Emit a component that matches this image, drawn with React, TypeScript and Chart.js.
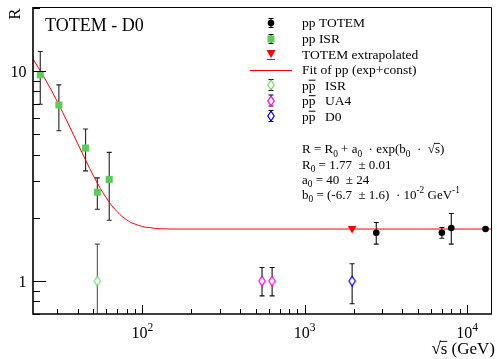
import React, { useEffect, useRef } from 'react';
import { Chart, registerables } from 'chart.js';

Chart.register(...registerables);

// ---- data ----
const fitX = [21, 25, 30, 35, 40, 45, 50, 55, 60, 65, 70, 75, 80, 85, 90, 95, 100, 105, 110, 120, 130, 140, 150, 14100];
const fitR = [11.57, 9.26, 7.13, 5.6, 4.51, 3.73, 3.17, 2.77, 2.49, 2.28, 2.14, 2.03, 1.96, 1.9, 1.87, 1.84, 1.82, 1.805, 1.8, 1.78, 1.775, 1.773, 1.77, 1.77];

const ppTotemX = [2760, 7000, 8000, 13000];
const ppTotemR = [1.7, 1.7, 1.79, 1.77];
const ppTotemLo = [1.5, 1.6, 1.5, 1.75];
const ppTotemHi = [1.9, 1.8, 2.1, 1.79];

const ppIsrX = [23.5, 30.6, 44.7, 52.8, 62.5];
const ppIsrR = [9.6, 6.9, 4.3, 2.65, 3.05];
const ppIsrLo = [6.95, 5.2, 3.35, 2.2, 1.95];
const ppIsrHi = [12.4, 8.6, 5.3, 3.1, 4.1];

const extrapX = [1960];
const extrapR = [1.78];

const pbarIsrX = [52.8];
const pbarIsrR = [1.0];
const pbarIsrLo = [0.5];
const pbarIsrHi = [1.5];

const ua4X = [546, 630];
const ua4R = [1.0, 1.0];
const ua4Lo = [0.85, 0.85];
const ua4Hi = [1.16, 1.16];

const d0X = [1960];
const d0R = [1.0];
const d0Lo = [0.78];
const d0Hi = [1.21];

const xMin = 21.2;
const xMax = 14050;
const yMin = 0.697;
const yMax = 20.2;
const xMajorTicks = [100, 1000, 10000];
const xMajorExp = ['2', '3', '4'];
const yMajorTicks = [1, 10];
const yMajorLabels = ['1', '10'];

const legendLabels = ['pp TOTEM', 'pp ISR', 'TOTEM extrapolated', 'Fit of pp (exp+const)', 'ISR', 'UA4', 'D0'];

const SERIF = '"Liberation Serif", "DejaVu Serif", serif';
const GREEN = '#5ccb5c';
const OPEN_GREEN = '#6edc6e';
const MAGENTA = '#ff00ff';
const BLUE = '#0000ff';
const RED = '#ff0000';

function pts(xs: number[], ys: number[]) {
  return xs.map((x, i) => ({ x, y: ys[i] }));
}

function mkDiamond(color: string): HTMLCanvasElement {
  const c = document.createElement('canvas');
  c.width = 10;
  c.height = 14;
  const g = c.getContext('2d')!;
  g.beginPath();
  g.moveTo(5, 2.2);
  g.lineTo(8.2, 7);
  g.lineTo(5, 11.8);
  g.lineTo(1.8, 7);
  g.closePath();
  g.fillStyle = '#ffffff';
  g.fill();
  g.strokeStyle = color;
  g.lineWidth = 1.2;
  g.stroke();
  return c;
}

type Seg = { t: string; k?: 'sub' | 'sup' | 'ovl' };

function drawRich(ctx: CanvasRenderingContext2D, x: number, y: number, segs: Seg[], size: number, measureOnly = false) {
  let cx = x;
  for (const s of segs) {
    const small = s.k === 'sub' || s.k === 'sup';
    const fs = small ? size * 0.72 : size;
    ctx.font = `${fs}px ${SERIF}`;
    const dy = s.k === 'sub' ? size * 0.28 : s.k === 'sup' ? -size * 0.42 : 0;
    const w = ctx.measureText(s.t).width;
    if (!measureOnly) {
      ctx.fillText(s.t, cx, y + dy);
      if (s.k === 'ovl') {
        ctx.save();
        ctx.lineWidth = 0.9;
        ctx.beginPath();
        ctx.moveTo(cx - 1, y - size * 0.74);
        ctx.lineTo(cx + w, y - size * 0.74);
        ctx.stroke();
        ctx.restore();
      }
    }
    cx += w;
  }
  return cx - x;
}

export default function App() {
  const ref = useRef<HTMLCanvasElement>(null);

  useEffect(() => {
    const canvas = ref.current!;
    const diaGreen = mkDiamond(OPEN_GREEN);
    const diaMag = mkDiamond(MAGENTA);
    const diaBlue = mkDiamond(BLUE);

    const errSets = [
      { xs: ppTotemX, lo: ppTotemLo, hi: ppTotemHi, color: '#111' },
      { xs: ppIsrX, lo: ppIsrLo, hi: ppIsrHi, color: '#222' },
      { xs: pbarIsrX, lo: pbarIsrLo, hi: pbarIsrHi, color: '#555' },
      { xs: ua4X, lo: ua4Lo, hi: ua4Hi, color: '#111' },
      { xs: d0X, lo: d0Lo, hi: d0Hi, color: '#111' },
    ];

    const errPlugin = {
      id: 'errbars',
      beforeDatasetsDraw(chart: any) {
        const ctx = chart.ctx as CanvasRenderingContext2D;
        const xs = chart.scales.x;
        const ys = chart.scales.y;
        const a = chart.chartArea;
        ctx.save();
        ctx.beginPath();
        ctx.rect(a.left, a.top, a.right - a.left, a.bottom - a.top);
        ctx.clip();
        ctx.lineWidth = 1.1;
        for (const s of errSets) {
          ctx.strokeStyle = s.color;
          s.xs.forEach((xv, i) => {
            const px = xs.getPixelForValue(xv);
            const p1 = ys.getPixelForValue(s.lo[i]);
            const p2 = ys.getPixelForValue(s.hi[i]);
            ctx.beginPath();
            ctx.moveTo(px, p1);
            ctx.lineTo(px, p2);
            ctx.moveTo(px - 2.5, p1);
            ctx.lineTo(px + 2.5, p1);
            ctx.moveTo(px - 2.5, p2);
            ctx.lineTo(px + 2.5, p2);
            ctx.stroke();
          });
        }
        ctx.restore();
      },
    };

    const decoPlugin = {
      id: 'deco',
      afterDraw(chart: any) {
        const ctx = chart.ctx as CanvasRenderingContext2D;
        const xs = chart.scales.x;
        const ys = chart.scales.y;
        const { left, right, top, bottom } = chart.chartArea;
        ctx.save();
        ctx.strokeStyle = '#000';
        ctx.fillStyle = '#000';
        // frame
        ctx.lineWidth = 1;
        ctx.beginPath();
        ctx.moveTo(left, top + 0.5);
        ctx.lineTo(right + 0.5, top + 0.5);
        ctx.lineTo(right + 0.5, bottom);
        ctx.stroke();
        ctx.lineWidth = 1.6;
        ctx.beginPath();
        ctx.moveTo(left, top);
        ctx.lineTo(left, bottom);
        ctx.lineTo(right + 1, bottom);
        ctx.stroke();
        // x ticks
        ctx.lineWidth = 1;
        for (let e = 1; e <= 4; e++) {
          for (let m = 1; m <= 9; m++) {
            const v = m * Math.pow(10, e);
            if (v < xs.min || v > xs.max) continue;
            const px = Math.round(xs.getPixelForValue(v)) + 0.5;
            const len = m === 1 ? 9 : 5;
            ctx.beginPath();
            ctx.moveTo(px, bottom);
            ctx.lineTo(px, bottom - len);
            ctx.stroke();
          }
        }
        // y ticks
        for (let e = -1; e <= 1; e++) {
          for (let m = 1; m <= 9; m++) {
            const v = m * Math.pow(10, e);
            if (v < ys.min || v > ys.max) continue;
            const py = Math.round(ys.getPixelForValue(v)) + 0.5;
            const len = m === 1 ? 13 : 7;
            ctx.beginPath();
            ctx.moveTo(left, py);
            ctx.lineTo(left + len, py);
            ctx.stroke();
          }
        }
        // x tick labels
        ctx.textBaseline = 'alphabetic';
        ctx.textAlign = 'left';
        xMajorTicks.forEach((v, i) => {
          const px = xs.getPixelForValue(v);
          const segs: Seg[] = [{ t: '10' }, { t: xMajorExp[i], k: 'sup' }];
          const w = drawRich(ctx, 0, 0, segs, 16, true);
          drawRich(ctx, px - w / 2, 337.5, segs, 16);
        });
        // y tick labels
        ctx.textAlign = 'right';
        ctx.font = `16px ${SERIF}`;
        yMajorTicks.forEach((v, i) => {
          const py = ys.getPixelForValue(v);
          ctx.fillText(yMajorLabels[i], 26.5, py + 6);
        });
        ctx.textAlign = 'left';
        // x title
        const xt: Seg[] = [{ t: '√' }, { t: 's', k: 'ovl' }, { t: ' (GeV)' }];
        const xtw = drawRich(ctx, 0, 0, xt, 17, true);
        drawRich(ctx, 495 - xtw, 354, xt, 17);
        // y title
        ctx.save();
        ctx.translate(20, 14);
        ctx.rotate(-Math.PI / 2);
        ctx.textAlign = 'center';
        ctx.font = `17px ${SERIF}`;
        ctx.fillText('R', 0, 0);
        ctx.restore();
        // header
        ctx.font = `18px ${SERIF}`;
        ctx.fillText('TOTEM - D0', 45, 31);

        // legend
        const lx = 271;
        const tx = 302;
        const fsL = 13.5;
        const rows = [23, 39, 54.5, 70, 85, 100.5, 116];
        const bases = [27.3, 43, 58.7, 74.2, 89.5, 105, 120.5];
        const vbar = (y: number, h: number) => {
          ctx.strokeStyle = '#000';
          ctx.lineWidth = 1.1;
          ctx.beginPath();
          ctx.moveTo(lx, y - h);
          ctx.lineTo(lx, y + h);
          ctx.moveTo(lx - 2.5, y - h);
          ctx.lineTo(lx + 2.5, y - h);
          ctx.moveTo(lx - 2.5, y + h);
          ctx.lineTo(lx + 2.5, y + h);
          ctx.stroke();
        };
        // row 1
        vbar(rows[0], 4.5);
        ctx.fillStyle = '#000';
        ctx.beginPath();
        ctx.arc(lx, rows[0], 3.3, 0, Math.PI * 2);
        ctx.fill();
        // row 2
        vbar(rows[1], 4.5);
        ctx.fillStyle = GREEN;
        ctx.fillRect(lx - 3.5, rows[1] - 3.5, 7, 7);
        // row 3
        ctx.fillStyle = RED;
        ctx.beginPath();
        ctx.moveTo(lx - 4.5, rows[2] - 4.5);
        ctx.lineTo(lx + 4.5, rows[2] - 4.5);
        ctx.lineTo(lx, rows[2] + 3.5);
        ctx.closePath();
        ctx.fill();
        ctx.strokeStyle = RED;
        ctx.lineWidth = 1;
        ctx.beginPath();
        ctx.moveTo(lx - 4, rows[2] + 5);
        ctx.lineTo(lx + 4, rows[2] + 5);
        ctx.stroke();
        // row 4
        ctx.strokeStyle = RED;
        ctx.lineWidth = 1;
        ctx.beginPath();
        ctx.moveTo(250, rows[3] + 0.5);
        ctx.lineTo(292, rows[3] + 0.5);
        ctx.stroke();
        // rows 5-7
        [diaGreen, diaMag, diaBlue].forEach((img, i) => {
          const y = rows[4 + i];
          vbar(y, 5.5);
          ctx.drawImage(img, lx - 5, Math.round(y) - 7);
        });
        // legend text
        ctx.fillStyle = '#000';
        ctx.strokeStyle = '#000';
        ctx.font = `${fsL}px ${SERIF}`;
        for (let i = 0; i < 4; i++) ctx.fillText(legendLabels[i], tx, bases[i]);
        for (let i = 4; i < 7; i++) {
          ctx.font = `${fsL}px ${SERIF}`;
          ctx.fillText('pp', tx, bases[i]);
          const pw = ctx.measureText('p').width;
          ctx.lineWidth = 1;
          ctx.beginPath();
          ctx.moveTo(tx + pw, bases[i] - 9.3);
          ctx.lineTo(tx + 2 * pw, bases[i] - 9.3);
          ctx.stroke();
          ctx.fillText(legendLabels[i], 325, bases[i]);
        }

        // fit formula
        const fs = 13;
        drawRich(ctx, 302, 153, [
          { t: 'R = R' }, { t: '0', k: 'sub' }, { t: ' + a' }, { t: '0', k: 'sub' },
          { t: '  · exp(b' }, { t: '0', k: 'sub' }, { t: '  ·  √' }, { t: 's', k: 'ovl' }, { t: ')' },
        ], fs);
        drawRich(ctx, 302, 168.5, [{ t: 'R' }, { t: '0', k: 'sub' }, { t: ' = 1.77  ± 0.01' }], fs);
        drawRich(ctx, 302, 183.5, [{ t: 'a' }, { t: '0', k: 'sub' }, { t: ' = 40  ± 24' }], fs);
        drawRich(ctx, 302, 198.5, [
          { t: 'b' }, { t: '0', k: 'sub' }, { t: ' = (-6.7  ± 1.6)  · 10' }, { t: '-2', k: 'sup' },
          { t: ' GeV' }, { t: '-1', k: 'sup' },
        ], fs);
        ctx.restore();
      },
    };

    const chart = new Chart(canvas, {
      type: 'scatter',
      data: {
        datasets: [
          {
            label: 'pp TOTEM',
            data: pts(ppTotemX, ppTotemR),
            pointStyle: 'circle',
            pointRadius: 3.3,
            backgroundColor: '#000',
            borderColor: '#000',
            borderWidth: 0,
          },
          {
            label: 'pp ISR',
            data: pts(ppIsrX, ppIsrR),
            pointStyle: 'rect',
            pointRadius: 5,
            backgroundColor: GREEN,
            borderColor: GREEN,
            borderWidth: 0,
          },
          {
            label: 'TOTEM extrapolated',
            data: pts(extrapX, extrapR),
            pointStyle: 'triangle',
            rotation: 180,
            pointRadius: 5,
            backgroundColor: RED,
            borderColor: RED,
            borderWidth: 0,
          },
          {
            label: 'ppbar ISR',
            data: pts(pbarIsrX, pbarIsrR),
            pointStyle: diaGreen as any,
            pointRadius: 5,
          },
          {
            label: 'ppbar UA4',
            data: pts(ua4X, ua4R),
            pointStyle: diaMag as any,
            pointRadius: 5,
          },
          {
            label: 'ppbar D0',
            data: pts(d0X, d0R),
            pointStyle: diaBlue as any,
            pointRadius: 5,
          },
          {
            type: 'line',
            label: 'Fit',
            data: pts(fitX, fitR),
            showLine: true,
            pointRadius: 0,
            borderColor: RED,
            borderWidth: 1,
            cubicInterpolationMode: 'monotone',
            fill: false,
          } as any,
        ],
      },
      options: {
        responsive: false,
        animation: false,
        devicePixelRatio: 1,
        events: [],
        layout: { padding: { left: 33, top: 7, right: 3, bottom: 45 } },
        scales: {
          x: { type: 'logarithmic', min: xMin, max: xMax, display: false },
          y: { type: 'logarithmic', min: yMin, max: yMax, display: false },
        },
        plugins: {
          legend: { display: false },
          tooltip: { enabled: false },
        },
      },
      plugins: [errPlugin, decoPlugin],
    });
    return () => chart.destroy();
  }, []);

  return (
    <div style={{ position: 'fixed', left: 0, top: 0, width: 497, height: 359, background: '#fff' }}>
      <canvas ref={ref} width={497} height={359} style={{ display: 'block', width: 497, height: 359 }} />
    </div>
  );
}
